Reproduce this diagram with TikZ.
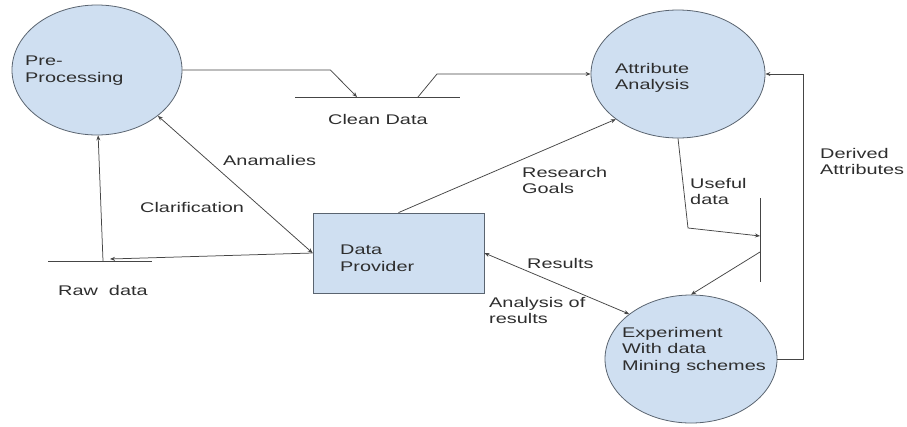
\documentclass[tikz,border=0pt]{standalone}
\usepackage{fontspec}
\setmainfont[FakeStretch=1.42]{Liberation Sans}
\usetikzlibrary{arrows.meta,shapes.geometric}
\definecolor{bubble}{HTML}{CFDFF1}
\definecolor{edge}{HTML}{5A6470}
\definecolor{ink}{HTML}{2E2E2E}
\definecolor{wire}{HTML}{454545}
\begin{document}
\begin{tikzpicture}[x=1pt,y=-1pt,
  proc/.style={ellipse,draw=edge,fill=bubble,line width=0.8pt,inner sep=0pt},
  ent/.style={rectangle,draw=edge,fill=bubble,line width=0.8pt,inner sep=0pt},
  lbl/.style={text=ink,inner sep=0pt,align=left,font={\fontsize{14}{16.5}\selectfont}},
  arr/.style={draw=wire,line width=0.75pt,-{Stealth[length=5pt,width=4pt]}},
  arrtwo/.style={draw=wire,line width=0.75pt,{Stealth[length=5pt,width=4pt]}-{Stealth[length=5pt,width=4pt]}},
  storeline/.style={draw=wire,line width=0.75pt}]
\fill[white] (0,0) rectangle (907,426);
\useasboundingbox (0,0) rectangle (907,426);

% processes and entity
\node[proc,minimum width=170pt,minimum height=130pt] (pre) at (97,70) {};
\node[proc,minimum width=174pt,minimum height=128pt] (aa) at (678,74) {};
\node[proc,minimum width=172pt,minimum height=128pt] (exp) at (691,359) {};
\node[ent,minimum width=171pt,minimum height=80pt] (dp) at (398.5,253) {};

% texts inside shapes
\node[lbl,anchor=north west] (tpre) at (25,56) {Pre-\\Processing};
\node[lbl,anchor=north west] (taa) at (615,63) {Attribute\\Analysis};
\node[lbl,anchor=north west] (texp) at (622,327) {Experiment\\With data\\Mining schemes};
\node[lbl,anchor=north west] (tdp) at (340,245) {Data\\Provider};

% data stores
\coordinate (cdL) at (295,97);
\coordinate (cdR) at (460,97);
\coordinate (cdA) at (357,97);
\coordinate (cdB) at (418,97);
\draw[storeline] (cdL) -- (cdR);
\coordinate (rawL) at (48,261);
\coordinate (rawR) at (152,261);
\coordinate (rawA) at (103,261);
\coordinate (rawB) at (110,259);
\draw[storeline] (rawL) -- (rawR);
\coordinate (ufT) at (760,198);
\coordinate (ufB) at (760,282);
\coordinate (ufA) at (760,236);
\coordinate (ufC) at (760,252);
\draw[storeline] (ufT) -- (ufB);

% connectors
\draw[arr] (pre.east) -- ++(148,0) -- (cdA);
\draw[arr] (cdB) -- ++(19,-23) -- (aa.west);
\draw[arr] (dp.north) -- (aa.-144);
\draw[arrtwo] (pre.-37) -- (dp.west);
\draw[arr] (dp.west) -- (rawB);
\draw[arr] (rawA) -- (pre.-89);
\draw[arr] (aa.south) -- (688,228) -- (ufA);
\draw[arr] (ufC) -- (exp.north);
\draw[arr] (exp.east) -- ++(26,0) |- (aa.east);
\draw[arrtwo] (dp.east) -- (exp.144);

% labels
\node[lbl,anchor=base west] (lclean) at (328,124) {Clean Data};
\node[lbl,anchor=base west] (lanam) at (223,165) {Anamalies};
\node[lbl,anchor=base west] (lclar) at (140,212) {Clarification};
\node[lbl,anchor=base west] (lraw) at (58,295) {Raw~~data};
\node[lbl,anchor=north west] (lres) at (522,167) {Research\\Goals};
\node[lbl,anchor=north west] (luse) at (690,178) {Useful\\data};
\node[lbl,anchor=north west] (lder) at (820,148) {Derived\\Attributes};
\node[lbl,anchor=base west] (lresults) at (527,268) {Results};
\node[lbl,anchor=north west] (lanal) at (489,297) {Analysis of\\results};
\end{tikzpicture}
\end{document}
